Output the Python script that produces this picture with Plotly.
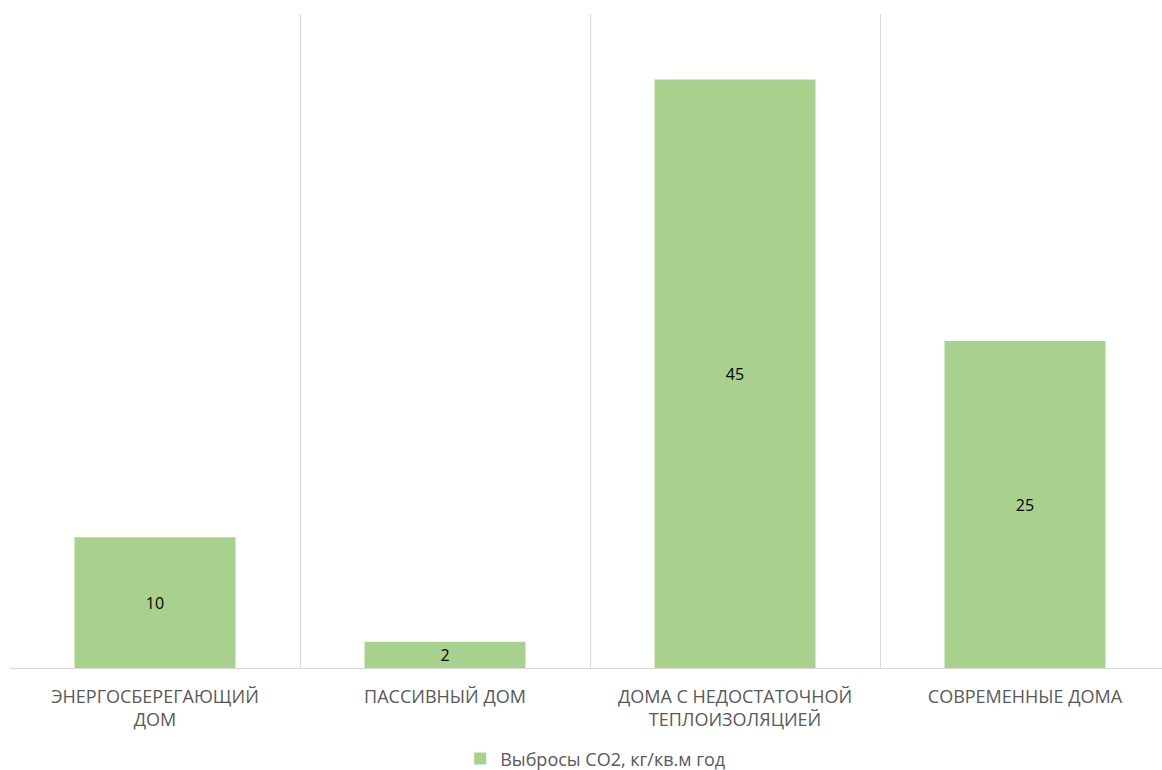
import plotly.graph_objects as go

categories = ["ЭНЕРГОСБЕРЕГАЮЩИЙ<br>ДОМ", "ПАССИВНЫЙ ДОМ",
              "ДОМА С НЕДОСТАТОЧНОЙ<br>ТЕПЛОИЗОЛЯЦИЕЙ", "СОВРЕМЕННЫЕ ДОМА"]
values = [10, 2, 45, 25]
series_name = "Выбросы CO2, кг/кв.м год"

fig = go.Figure()
fig.add_trace(go.Bar(
    x=categories, y=values, name=series_name,
    marker=dict(color="#a9d18e", line=dict(width=0)),
    text=[str(v) for v in values], textposition="inside",
    insidetextanchor="middle", textangle=0, constraintext="none",
    textfont=dict(color="#000000", size=16, family="Open Sans"),
    showlegend=True,
))

fig.update_layout(
    width=1162, height=770,
    margin=dict(l=10, r=0, t=14, b=102, autoexpand=False),
    plot_bgcolor="white", paper_bgcolor="white",
    bargap=0.445,
    font=dict(family="Open Sans", color="#595959"),
    xaxis=dict(
        type="category", tickson="boundaries", range=[-0.5, 3.5 - 8 / 290],
        showgrid=True, gridcolor="#d9d9d9", gridwidth=1,
        showline=True, linecolor="#d9d9d9", linewidth=1,
        ticks="", ticklabelstandoff=12, automargin=False,
        tickfont=dict(size=18, color="#595959", family="Open Sans"),
    ),
    yaxis=dict(range=[0, 50], showgrid=False, zeroline=False,
               showticklabels=False, ticks=""),
    legend=dict(orientation="h", x=0.508, xanchor="center", y=-0.139,
                yanchor="middle", font=dict(size=18, color="#595959")),
)

fig.write_html("out.html")
